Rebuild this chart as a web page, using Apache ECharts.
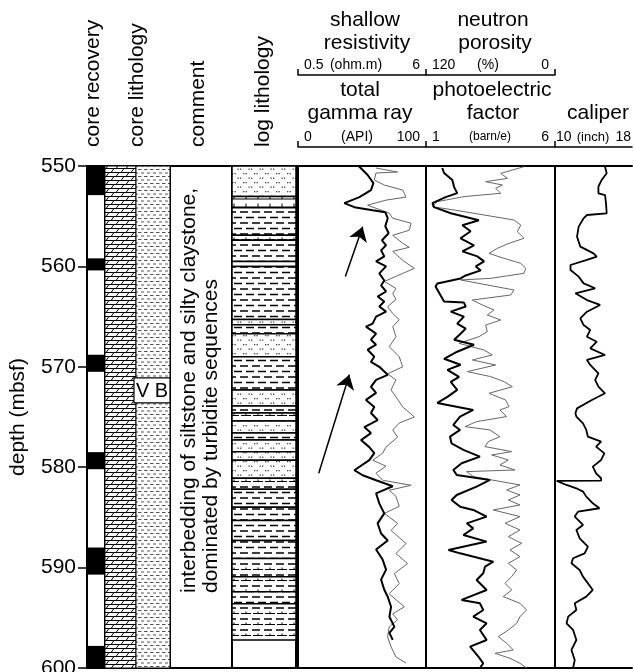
<!DOCTYPE html>
<html>
<head>
<meta charset="utf-8">
<script src="https://cdn.jsdelivr.net/npm/echarts@6/dist/echarts.min.js"></script>
<style>
  html, body { margin: 0; padding: 0; background: #fff; overflow: hidden; }
  #main { width: 634px; height: 690px; }
</style>
</head>
<body>
<div id="main"></div>
<script>
// depth axis
var depthMin = 550, depthMax = 600, depthStep = 10;

// core recovery: recovered intervals [top, bottom] (mbsf)
var coreRecovered = [[550.0, 552.9], [559.2, 560.4], [568.8, 570.5], [578.5, 580.2], [588.0, 590.7], [597.8, 600.0]];
// core lithology unit and its label
var coreUnit = [[550.0, 600.0]];
var coreUnitLabel = [[571.1, 573.6, 'V B']];

// log lithology beds [top, bottom, type]
var logBeds = [
  [550.0, 553.05, 'sand'], [553.05, 554.15, 'silt'], [554.15, 556.9, 'clay'], [556.9, 557.4, 'silty'],
  [557.4, 559.5, 'clay'], [559.5, 560.0, 'silty'], [560.0, 565.3, 'clay'], [565.3, 565.8, 'sand'],
  [565.8, 566.7, 'clay'], [566.7, 569.0, 'sand'], [569.0, 572.3, 'clay'], [572.3, 573.9, 'sand'],
  [573.9, 574.6, 'clay'], [574.6, 575.4, 'silty'], [575.4, 576.6, 'sand'], [576.6, 577.3, 'clay'],
  [577.3, 578.45, 'sand'], [578.45, 579.3, 'sand'], [579.3, 581.1, 'sand'], [581.1, 582.2, 'silty'],
  [582.2, 584.0, 'clay'], [584.0, 585.3, 'clay'], [585.3, 587.3, 'clay'], [587.3, 589.1, 'clay'],
  [589.1, 590.9, 'silty'], [590.9, 592.4, 'silty'], [592.4, 593.6, 'clay'], [593.6, 597.2, 'silty']
];

// total gamma ray [depth, API]
var gammaRay = [
  [550.0,47.4],[550.9,54.4],[551.7,58.9],[552.4,57.0],[553.1,48.0],[553.7,36.2],[554.1,44.0],[554.4,58.3],
  [554.6,68.2],[555.2,70.1],[556.0,68.2],[556.7,70.8],[557.4,65.6],[557.9,68.8],[558.4,64.9],[559.0,67.4],
  [559.5,61.0],[560.0,68.8],[560.7,63.5],[561.4,67.4],[561.9,64.9],[562.5,68.8],[563.0,62.2],[563.5,67.4],
  [564.0,63.5],[564.5,68.8],[565.0,61.0],[565.7,58.3],[566.0,53.1],[566.7,61.0],[567.3,57.0],[567.8,61.0],
  [568.3,54.4],[569.0,59.6],[569.5,57.0],[570.0,63.5],[570.8,70.1],[571.3,61.0],[572.0,57.0],[572.6,61.0],
  [573.3,53.1],[574.0,59.6],[574.6,57.0],[575.3,62.2],[576.0,51.8],[576.6,57.0],[577.3,49.2],[578.0,55.7],
  [578.6,59.6],[579.3,55.7],[580.3,44.0],[580.8,50.5],[581.3,61.0],[581.9,74.0],[582.6,61.0],[583.6,63.5],
  [584.6,67.4],[585.6,62.2],[586.6,64.9],[587.3,70.1],[588.2,61.0],[589.2,66.1],[590.2,68.8],[591.2,64.9],
  [592.2,67.4],[592.9,70.1],[593.9,72.7],[594.9,71.4],[595.9,75.3],[596.5,71.4],[597.2,74.0]
];

// shallow resistivity [depth, ohm.m]
var shallowRes = [
  [550.2,3.85],[550.6,4.78],[550.7,3.85],[551.4,3.78],[551.9,4.21],[552.4,5.0],[553.1,5.14],[553.4,4.28],
  [553.9,3.49],[554.4,4.07],[554.7,4.42],[555.2,4.57],[555.7,5.36],[556.4,5.28],[556.9,4.57],[557.7,5.0],
  [558.1,5.28],[558.5,4.57],[559.4,5.0],[560.2,5.5],[560.7,5.0],[561.5,4.21],[562.2,4.71],[562.7,4.57],
  [563.3,4.71],[564.0,4.35],[564.7,4.57],[565.3,4.85],[566.0,4.57],[567.0,4.71],[568.0,4.42],[569.0,4.85],
  [570.0,5.0],[570.7,4.35],[571.3,4.71],[572.3,4.50],[573.0,4.71],[574.0,5.0],[575.0,5.5],[575.6,4.85],
  [576.3,4.57],[577.0,4.78],[578.0,4.28],[578.6,4.14],[579.3,3.71],[579.9,4.28],[580.6,3.85],[581.3,4.14],
  [581.8,5.36],[582.3,4.42],[582.9,4.71],[583.9,4.85],[584.6,4.21],[585.6,4.78],[586.3,4.50],[587.6,5.14],
  [588.6,4.71],[589.6,5.21],[590.6,4.64],[591.6,4.85],[592.6,4.42],[593.2,4.71],[593.9,5.07],[594.6,4.57],
  [595.2,4.78],[595.9,4.42],[596.9,4.35],[597.9,4.50],[598.9,4.71],[599.5,5.14]
];

// photoelectric factor [depth, barn/e]
var photoFactor = [
  [550.2,1.63],[550.7,1.70],[551.4,2.02],[552.1,2.09],[552.7,2.21],[553.1,1.76],[553.7,1.25],[554.1,1.31],
  [554.7,1.96],[555.4,3.05],[555.9,2.41],[556.5,2.73],[557.2,2.34],[557.9,2.86],[558.5,2.41],[559.0,2.99],
  [559.5,3.25],[560.0,2.93],[560.4,3.12],[560.9,2.54],[561.2,2.34],[561.7,1.44],[562.0,1.37],[563.5,1.70],
  [563.6,2.47],[564.0,2.54],[564.5,1.96],[565.0,2.47],[565.7,2.21],[566.2,2.54],[566.7,2.34],[567.3,2.09],
  [567.8,2.86],[568.5,2.21],[569.2,1.70],[569.8,2.34],[570.3,1.83],[571.0,2.28],[571.5,1.96],[572.3,2.21],
  [573.0,1.83],[573.6,1.44],[574.3,2.83],[574.96,2.32],[575.79,2.06],[576.29,2.32],[576.96,1.93],[577.62,1.99],
  [578.28,2.45],[578.95,3.09],[579.61,2.38],[580.28,2.06],[580.77,2.19],[581.27,3.48],[581.94,2.96],[582.77,2.19],
  [583.26,1.99],[583.93,2.32],[584.26,2.83],[584.92,3.35],[585.59,2.58],[586.09,2.83],[586.75,2.45],[587.41,3.35],
  [588.24,1.87],[588.58,2.32],[589.41,3.61],[589.90,3.29],[590.57,3.22],[591.23,2.96],[592.23,3.35],[593.22,2.38],
  [593.56,3.09],[594.22,3.22],[594.88,2.83],[595.55,3.35],[596.21,3.09],[597.21,3.35],[597.87,2.71],[598.87,3.03],
  [599.53,3.22],[600.0,3.09]
];

// neutron porosity [depth, %]
var neutronPor = [
  [550.07,28.8],[550.73,50.5],[551.23,44.3],[551.56,64.5],[551.89,49.0],[552.22,55.2],[552.72,50.5],[553.05,84.6],
  [553.55,109.5],[554.05,114.1],[554.38,94.0],[554.88,66.0],[555.38,38.1],[555.88,31.9],[556.54,35.0],[557.20,28.8],
  [557.70,42.8],[558.20,53.6],[558.70,61.4],[559.20,47.4],[559.69,31.9],[560.19,27.3],[560.69,28.8],[561.19,59.8],
  [561.35,87.7],[561.85,63.0],[562.35,38.1],[562.85,41.2],[563.35,76.9],[563.84,67.6],[564.34,56.7],[564.84,63.0],
  [565.34,50.5],[565.84,64.5],[566.50,63.0],[567.00,70.7],[567.66,89.3],[568.33,66.0],[568.82,58.3],[569.32,76.9],
  [569.82,55.2],[570.48,81.5],[570.98,59.8],[571.48,47.4],[571.98,39.7],[572.64,61.4],[573.31,45.9],[573.97,42.8],
  [574.30,51.2],[574.96,45.0],[575.46,72.9],[575.96,83.7],[576.29,60.5],[576.96,51.2],[577.45,62.0],[577.95,65.1],
  [578.45,40.3],[578.78,58.9],[579.28,43.4],[579.78,51.2],[580.28,37.2],[580.44,82.2],[580.94,76.0],[581.27,58.9],
  [581.77,32.6],[582.27,45.0],[582.77,32.6],[583.26,43.4],[583.76,32.6],[584.26,57.4],[584.92,32.6],[585.59,46.5],
  [586.25,32.6],[586.92,43.4],[587.58,31.0],[588.24,41.9],[588.91,32.6],[589.57,43.4],[590.24,35.7],[590.90,40.3],
  [591.56,46.5],[592.23,40.3],[592.89,48.1],[593.56,32.6],[594.22,26.4],[594.88,32.6],[595.55,35.7],[596.21,43.4],
  [596.88,52.7],[597.54,45.0],[598.20,38.8],[598.54,55.8],[599.03,41.9],[599.53,32.6],[600.0,26.4]
];

// caliper [depth, inch]
var caliper = [
  [550.07,15.20],[550.73,15.37],[551.39,14.85],[552.06,14.51],[552.72,14.51],[552.89,15.20],[553.72,15.30],[554.71,15.37],
  [554.88,13.32],[555.21,12.97],[556.04,12.46],[557.04,12.29],[558.03,12.63],[558.70,14.00],[559.03,14.34],[559.36,13.32],
  [559.86,11.61],[560.36,11.61],[561.02,12.46],[561.69,12.97],[562.18,14.17],[562.68,12.12],[563.35,13.32],[563.84,14.68],
  [564.51,13.32],[565.17,12.63],[565.84,12.97],[566.33,13.66],[567.00,13.32],[567.50,14.34],[568.16,13.66],[568.82,15.20],
  [569.32,13.32],[569.82,13.66],[570.65,14.51],[571.31,14.17],[571.98,14.51],[572.64,15.20],[573.31,13.83],[574.14,12.29],
  [574.63,12.12],[574.96,12.22],[575.63,12.91],[576.29,13.25],[576.96,13.42],[577.45,14.79],[577.95,14.27],[578.62,15.13],
  [579.28,14.79],[579.94,13.93],[580.61,14.27],[581.10,14.79],[581.34,14.79],[581.36,10.17],[581.77,11.20],[582.10,12.22],
  [582.43,12.91],[582.93,13.25],[583.60,13.93],[584.09,14.62],[584.43,12.39],[584.92,12.05],[585.75,12.91],[586.25,12.22],
  [587.08,12.56],[587.91,13.42],[588.58,13.08],[589.07,11.88],[589.57,11.71],[590.24,12.56],[590.90,12.91],[592.23,13.93],
  [592.89,13.25],[593.56,12.05],[594.22,12.22],[594.88,11.37],[595.55,11.20],[596.21,11.88],[597.21,12.22],[598.20,11.71],
  [599.20,12.05],[600.0,11.88]
];

// upward-fining trend arrows [tailDepth, tailGR, headDepth, headGR]
var trendArrows = [[561.0, 37.0, 556.05, 50.5], [580.6, 16.2, 570.8, 40.1]];

var FONT = '"Liberation Sans", Arial, sans-serif';
var TOP = 166, HEIGHT = 502;
// column left edge and width
var columns = [[87, 18], [105, 65], [170, 62], [232, 64], [298, 128], [426, 129], [555, 78]];

function makePattern(w, h, draw) {
  var c = document.createElement('canvas');
  c.width = w; c.height = h;
  var g = c.getContext('2d');
  g.fillStyle = '#fff';
  g.fillRect(0, 0, w, h);
  draw(g);
  return { image: c, repeat: 'repeat' };
}
function seg(g, x0, y0, x1, y1) { g.beginPath(); g.moveTo(x0, y0); g.lineTo(x1, y1); g.stroke(); }

var patterns = {
  sand: makePattern(11, 9, function (g) {
    g.fillStyle = '#444';
    g.fillRect(1, 2, 1.3, 1.3); g.fillRect(3.5, 2, 1.3, 1.3);
    g.fillRect(6.5, 6.5, 1.3, 1.3); g.fillRect(9, 6.5, 1.3, 1.3);
  }),
  clay: makePattern(12, 11, function (g) {
    g.strokeStyle = '#000'; g.lineWidth = 1.5;
    seg(g, 0, 3, 8, 3); seg(g, 6, 8.5, 12, 8.5); seg(g, 0, 8.5, 2, 8.5);
  }),
  silty: makePattern(12, 11, function (g) {
    g.strokeStyle = '#000'; g.lineWidth = 1.5;
    seg(g, 0, 3, 8, 3);
    g.lineWidth = 1;
    seg(g, 1, 8.5, 11, 8.5); seg(g, 6, 6.5, 6, 8.5);
  }),
  silt: makePattern(12, 8, function (g) {
    g.strokeStyle = '#000'; g.lineWidth = 1;
    seg(g, 0, 7, 12, 7); seg(g, 6, 3.5, 6, 7);
  }),
  dolo: makePattern(10, 8, function (g) {
    g.strokeStyle = '#000'; g.lineWidth = 1;
    seg(g, 0, 0.5, 10, 0.5); seg(g, 0, 4.5, 10, 4.5);
    seg(g, 1, 4.5, 4, 0.5); seg(g, 6, 8.5, 9, 4.5);
  }),
  dash: makePattern(6, 7, function (g) {
    g.strokeStyle = '#555'; g.lineWidth = 1;
    seg(g, 0, 1.5, 3.5, 1.5); seg(g, 3, 5, 6.5, 5);
  })
};

function yPix(api, v) { return api.coord([0, v])[1]; }

var grids = columns.map(function (c, i) {
  return { left: c[0], top: TOP, width: c[1], height: HEIGHT, show: i < 6,
           borderColor: '#000', borderWidth: 2, backgroundColor: 'transparent' };
});

var yAxes = columns.map(function (c, i) {
  var ax = { type: 'value', gridIndex: i, min: depthMin, max: depthMax, interval: depthStep,
             inverse: true, show: i === 0, splitLine: { show: false } };
  if (i === 0) {
    ax.position = 'left';
    ax.axisLine = { show: true, lineStyle: { color: '#000', width: 2 } };
    ax.axisTick = { show: true, length: 9, lineStyle: { color: '#000', width: 1.5 } };
    ax.axisLabel = { fontSize: 21, color: '#000', margin: 11, fontFamily: FONT,
                     verticalAlign: 'middle', verticalAlignMinLabel: 'middle', verticalAlignMaxLabel: 'middle' };
    ax.name = 'depth (mbsf)';
    ax.nameLocation = 'middle';
    ax.nameRotate = 90;
    ax.nameGap = 58;
    ax.nameTextStyle = { fontSize: 21, color: '#000', fontFamily: FONT };
  }
  return ax;
});

function hiddenX(grid) {
  return { type: 'value', gridIndex: grid, min: 0, max: 1, show: false };
}
function headAxis(grid, min, max, offset, extra) {
  var ax = {
    type: 'value', gridIndex: grid, position: 'top', offset: offset, min: min, max: max,
    axisLine: { show: true, onZero: false, lineStyle: { color: '#000', width: 1.5 } },
    axisTick: { show: true, customValues: [min, max], length: 6, lineStyle: { color: '#000', width: 1.5 } },
    axisLabel: { show: true, customValues: [min, max], alignMinLabel: 'left', alignMaxLabel: 'right',
                 padding: [0, 6], margin: 3, fontSize: 14, color: '#000', fontFamily: FONT },
    splitLine: { show: false }
  };
  return echarts.util.merge(ax, extra || {}, true);
}

var xAxes = [
  hiddenX(0), hiddenX(1), hiddenX(2), hiddenX(3),
  headAxis(4, 0, 100, 19),
  headAxis(4, 0.5, 6, 91),
  headAxis(5, 1, 6, 19),
  headAxis(5, 0, 120, 91, { inverse: true, axisLabel: { alignMinLabel: 'right', alignMaxLabel: 'left' } }),
  headAxis(6, 10, 18, 19, { axisLabel: { padding: [0, 1] }, axisTick: { customValues: [10] } }),
  { type: 'value', gridIndex: 6, position: 'top', offset: 0, min: 0, max: 1,
    axisLine: { show: true, onZero: false, lineStyle: { color: '#000', width: 2 } },
    axisTick: { show: false }, axisLabel: { show: false }, splitLine: { show: false } },
  { type: 'value', gridIndex: 6, position: 'bottom', offset: 0, min: 0, max: 1,
    axisLine: { show: true, onZero: false, lineStyle: { color: '#000', width: 2 } },
    axisTick: { show: false }, axisLabel: { show: false }, splitLine: { show: false } }
];

function curve(data, xi, yi, color, width) {
  return { type: 'line', xAxisIndex: xi, yAxisIndex: yi, showSymbol: false, silent: true,
           data: data.map(function (d) { return [d[1], d[0]]; }),
           lineStyle: { color: color, width: width }, z: 3 };
}

var series = [
  { type: 'custom', xAxisIndex: 0, yAxisIndex: 0, data: coreRecovered, silent: true,
    renderItem: function (params, api) {
      var cs = params.coordSys, y0 = yPix(api, api.value(0)), y1 = yPix(api, api.value(1));
      return { type: 'rect', shape: { x: cs.x, y: y0, width: cs.width, height: y1 - y0 }, style: { fill: '#000' } };
    } },
  { type: 'custom', xAxisIndex: 1, yAxisIndex: 1, data: coreUnit, silent: true,
    renderItem: function (params, api) {
      var cs = params.coordSys, y0 = yPix(api, api.value(0)), y1 = yPix(api, api.value(1));
      var mid = cs.x + Math.round(cs.width * 0.477);
      return { type: 'group', children: [
        { type: 'rect', shape: { x: cs.x, y: y0, width: mid - cs.x, height: y1 - y0 },
          style: { fill: patterns.dolo, stroke: '#000', lineWidth: 1 } },
        { type: 'rect', shape: { x: mid, y: y0, width: cs.x + cs.width - mid, height: y1 - y0 },
          style: { fill: patterns.dash, stroke: '#000', lineWidth: 1 } }
      ] };
    } },
  { type: 'custom', xAxisIndex: 1, yAxisIndex: 1, data: coreUnitLabel, silent: true, z: 4,
    renderItem: function (params, api) {
      var cs = params.coordSys, y0 = yPix(api, api.value(0)), y1 = yPix(api, api.value(1));
      var x0 = cs.x + cs.width * 0.446, x1 = cs.x + cs.width;
      return { type: 'group', children: [
        { type: 'rect', shape: { x: x0, y: y0, width: x1 - x0, height: y1 - y0 },
          style: { fill: '#fff', stroke: '#000', lineWidth: 1.2 } },
        { type: 'text', style: { text: coreUnitLabel[params.dataIndex][2], x: (x0 + x1) / 2, y: (y0 + y1) / 2 + 1,
          align: 'center', verticalAlign: 'middle', font: '20px ' + FONT, fill: '#000' } }
      ] };
    } },
  { type: 'custom', xAxisIndex: 3, yAxisIndex: 3, data: logBeds, silent: true,
    renderItem: function (params, api) {
      var cs = params.coordSys, y0 = yPix(api, api.value(0)), y1 = yPix(api, api.value(1));
      var kind = logBeds[params.dataIndex][2];
      return { type: 'rect', shape: { x: cs.x, y: y0, width: cs.width, height: y1 - y0 },
               style: { fill: patterns[kind], stroke: '#000', lineWidth: 1.5 } };
    } },
  curve(shallowRes, 5, 4, '#666', 1),
  curve(gammaRay, 4, 4, '#000', 2),
  curve(neutronPor, 7, 5, '#666', 1),
  curve(photoFactor, 6, 5, '#000', 2),
  curve(caliper, 8, 6, '#000', 1.8),
  { type: 'lines', coordinateSystem: 'cartesian2d', xAxisIndex: 4, yAxisIndex: 4, silent: true,
    symbol: ['none', 'arrow'], symbolSize: [9, 14],
    data: trendArrows.map(function (a) { return { coords: [[a[1], a[0]], [a[3], a[2]]] }; }),
    lineStyle: { color: '#000', width: 1.5, opacity: 1 } }
];

function vtext(x, y, text) {
  return { type: 'text', x: x, y: y, rotation: Math.PI / 2, silent: true,
           style: { text: text, font: '21px ' + FONT, fill: '#000', align: 'left', verticalAlign: 'middle' } };
}
function htext(x, y, text, size) {
  return { type: 'text', x: x, y: y, silent: true,
           style: { text: text, font: (size || 21) + 'px ' + FONT, fill: '#000', align: 'center', verticalAlign: 'middle' } };
}

var graphics = [
  vtext(93.5, 147, 'core recovery'),
  vtext(137.5, 147, 'core lithology'),
  vtext(198.5, 147, 'comment'),
  vtext(263, 147, 'log lithology'),
  vtext(189, 593, 'interbedding of siltstone and silty claystone,'),
  vtext(211, 593, 'dominated by turbidite sequences'),
  htext(365, 20, 'shallow'), htext(367, 43, 'resistivity'),
  htext(493, 20, 'neutron'), htext(495, 43, 'porosity'),
  htext(360, 90, 'total'), htext(360, 113, 'gamma ray'),
  htext(492, 90, 'photoelectric'), htext(493, 113, 'factor'),
  htext(598, 113, 'caliper'),
  htext(356, 65, '(ohm.m)', 14), htext(488, 65, '(%)', 14),
  htext(357, 137, '(API)', 14), htext(490, 137, '(barn/e)', 12), htext(593, 137, '(inch)', 13)
];

var chart = echarts.init(document.getElementById('main'), null, { renderer: 'canvas' });
chart.setOption({
  animation: false,
  backgroundColor: '#fff',
  textStyle: { fontFamily: FONT },
  grid: grids,
  xAxis: xAxes,
  yAxis: yAxes,
  series: series,
  graphic: graphics
});
</script>
</body>
</html>
